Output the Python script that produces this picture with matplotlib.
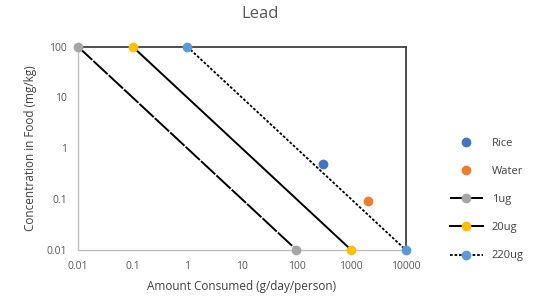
import matplotlib
matplotlib.use('Agg')
import matplotlib.pyplot as plt
from matplotlib.ticker import FixedLocator, FixedFormatter, NullLocator

plt.rcParams['font.family'] = ['Open Sans', 'DejaVu Sans']

# data
ug1_x = [0.01, 100]
ug1_y = [100, 0.01]
ug20_x = [0.1, 1000]
ug20_y = [100, 0.01]
ug220_x = [1, 10000]
ug220_y = [100, 0.01]
rice_x, rice_y = [300], [0.5]
water_x, water_y = [2000], [0.09]

xticks = [0.01, 0.1, 1, 10, 100, 1000, 10000]
xlabels = ['0.01', '0.1', '1', '10', '100', '1000', '10000']
yticks = [0.01, 0.1, 1, 10, 100]
ylabels = ['0.01', '0.1', '1', '10', '100']

txt = '#595959'
fig = plt.figure(figsize=(5.36, 3.07), dpi=100)
ax = fig.add_axes([0.1455, 0.186, 0.6115, 0.662])

ax.plot(rice_x, rice_y, 'o', color='#4472C4', ms=6, label='Rice', clip_on=False, zorder=4)
ax.plot(water_x, water_y, 'o', color='#ED7D31', ms=6, label='Water', clip_on=False, zorder=4)
ax.plot(ug1_x, ug1_y, color='black', lw=1.4, dashes=(10, 0.8), marker='o', ms=6,
        mfc='#A5A5A5', mec='#A5A5A5', label='1ug', clip_on=False, zorder=3)
ax.plot(ug20_x, ug20_y, color='black', lw=1.4, marker='o', ms=6,
        mfc='#FFC000', mec='#FFC000', label='20ug', clip_on=False, zorder=3)
ax.plot(ug220_x, ug220_y, color='black', lw=1.3, dashes=(1.5, 1), marker='o', ms=6,
        mfc='#5B9BD5', mec='#5B9BD5', label='220ug', clip_on=False, zorder=3)

ax.set_xscale('log')
ax.set_yscale('log')
ax.set_xlim(0.01, 10000)
ax.set_ylim(0.01, 100)
ax.xaxis.set_major_locator(FixedLocator(xticks))
ax.xaxis.set_major_formatter(FixedFormatter(xlabels))
ax.yaxis.set_major_locator(FixedLocator(yticks))
ax.yaxis.set_major_formatter(FixedFormatter(ylabels))
ax.xaxis.set_minor_locator(NullLocator())
ax.yaxis.set_minor_locator(NullLocator())
ax.tick_params(length=0, labelsize=7.5, labelcolor=txt, pad=8)

for s in ['left', 'bottom']:
    ax.spines[s].set_color('#BFBFBF')
    ax.spines[s].set_linewidth(1)
for s in ['top', 'right']:
    ax.spines[s].set_color('#404040')
    ax.spines[s].set_linewidth(1.3)

ax.set_xlabel('Amount Consumed (g/day/person)', fontsize=8.5, color='#404040', labelpad=6)
ax.set_ylabel('Concentration in Food (mg/kg)', fontsize=8.5, color='#404040', labelpad=7)
fig.text(0.485, 0.955, 'Lead', ha='center', va='center', fontsize=12, color=txt)

fig.legend(loc='center left', bbox_to_anchor=(0.82, 0.35), frameon=False, fontsize=8,
           labelspacing=1.55, handlelength=3, numpoints=1, labelcolor='#404040')

plt.savefig('out.png', dpi=100)
